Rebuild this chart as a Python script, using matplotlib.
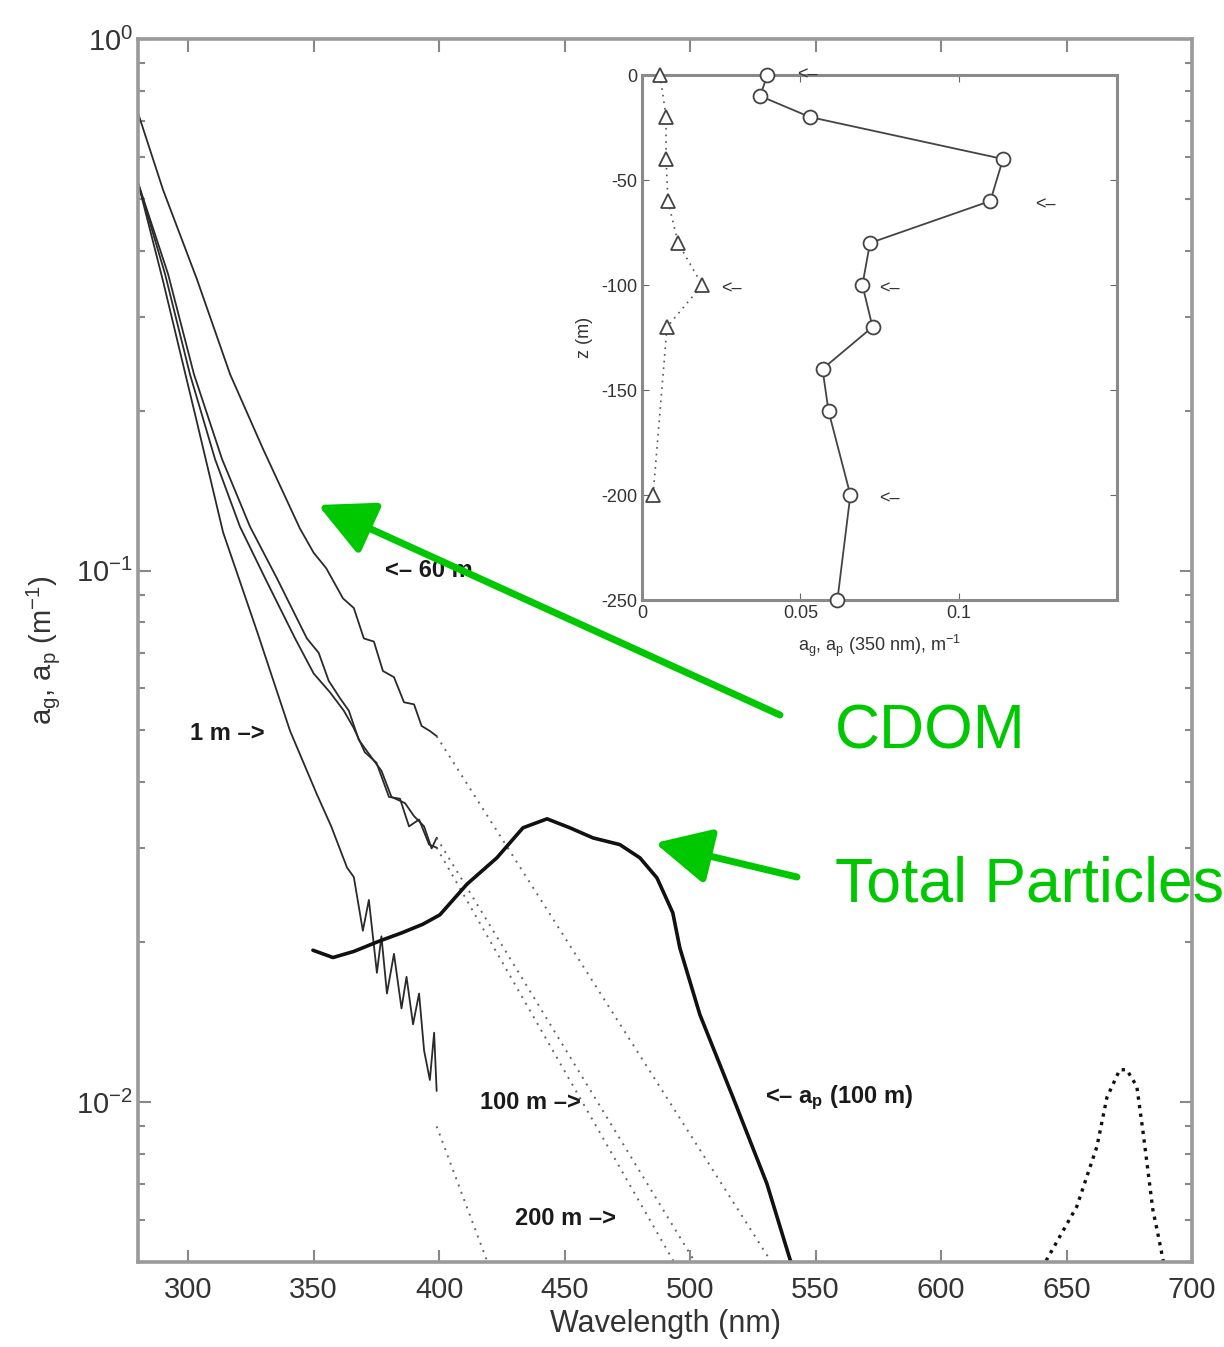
import matplotlib
matplotlib.use("Agg")
import matplotlib.pyplot as plt
from matplotlib.patches import FancyArrowPatch
from matplotlib.ticker import LogLocator, NullFormatter, FixedLocator

plt.rcParams['font.family'] = ['Liberation Sans', 'DejaVu Sans']
plt.rcParams['mathtext.fontset'] = 'custom'
plt.rcParams['mathtext.rm'] = 'Liberation Sans'
plt.rcParams['mathtext.it'] = 'Liberation Sans:italic'
plt.rcParams['mathtext.bf'] = 'Liberation Sans:bold'
plt.rcParams['mathtext.default'] = 'regular'

# ---------------- data: CDOM spectra (measured) ----------------
wl_60 = [280, 290, 303.5, 316.7, 329.9, 344.5, 350, 355, 361.7, 366, 370, 374, 377.6, 382, 386, 390, 393, 396.3, 399]
ag_60 = [0.726, 0.52, 0.353, 0.234, 0.169, 0.120, 0.108, 0.101, 0.0886, 0.0850, 0.0745, 0.0735, 0.0647,
         0.0630, 0.0565, 0.0560, 0.0510, 0.0499, 0.0488]

wl_1 = [280, 290, 303.5, 313.9, 327.4, 340.6, 351.3, 357, 363.3, 366, 369.6, 372, 375.2, 377, 379.2,
        382, 385, 387, 389.6, 392, 394, 396.3, 398, 399]
ag_1 = [0.537, 0.35, 0.190, 0.118, 0.0769, 0.0499, 0.0379, 0.0330, 0.0276, 0.0265, 0.0210, 0.0240,
        0.0175, 0.0205, 0.0160, 0.0190, 0.0150, 0.0172, 0.0140, 0.0160, 0.0125, 0.0110, 0.0135, 0.0105]

wl_m1 = [280, 290.8, 300.7, 310.7, 320.6, 330.7, 342.6, 350, 356.5, 362, 366, 370.4, 375, 380, 384.4,
         388, 392, 396, 399]
ag_m1 = [0.537, 0.361, 0.234, 0.162, 0.121, 0.0966, 0.0745, 0.0640, 0.0590, 0.0545, 0.0505, 0.0455,
         0.0435, 0.0375, 0.0372, 0.0330, 0.0340, 0.0305, 0.0301]

wl_m2 = [280, 292, 302.3, 313.5, 324.6, 335.4, 347.3, 352, 356, 360.5, 364, 368, 373.2, 377, 381,
         386.4, 390, 394, 397, 399]
ag_m2 = [0.537, 0.361, 0.234, 0.162, 0.121, 0.0966, 0.0745, 0.0700, 0.0620, 0.0575, 0.0545, 0.0480,
         0.0444, 0.0420, 0.0375, 0.0365, 0.0345, 0.0330, 0.0300, 0.0314]

# ---------------- data: exponential extrapolations ----------------
ext_wl_60 = [399, 550]
ext_60 = [0.0488, 0.0037]
ext_wl_1 = [399, 425]
ext_1 = [0.0090, 0.00423]
ext_wl_m1 = [399, 510]
ext_m1 = [0.0301, 0.00366]
ext_wl_m2 = [399, 510]
ext_m2 = [0.0314, 0.00433]

# ---------------- data: particle absorption a_p (100 m) ----------------
wl_ap = [349.7, 357.7, 366, 376.4, 385, 393.5, 400.3, 411.1, 423.0, 433.4, 443.0, 452.1, 461.3,
         472.0, 480.0, 486.8, 493.1, 495.9, 503.9, 517.1, 530.6, 539.8, 550]
ap = [0.0193, 0.0187, 0.0192, 0.0201, 0.0208, 0.0216, 0.0225, 0.0257, 0.0288, 0.0328, 0.0341,
      0.0328, 0.0314, 0.0305, 0.0288, 0.0264, 0.0227, 0.0195, 0.0146, 0.0102, 0.00702, 0.00506, 0.0038]
wl_ap_red = [630, 642.2, 654.1, 662.1, 666.1, 671.2, 674.0, 678.0, 680.4, 682.4, 684.4, 686.4, 689, 695]
ap_red = [0.0040, 0.00506, 0.00636, 0.00824, 0.0102, 0.0115, 0.0115, 0.0107, 0.00885, 0.00745,
          0.00627, 0.00565, 0.0049, 0.0040]

# ---------------- data: inset profiles ----------------
z_ap = [0, -10, -20, -40, -60, -80, -100, -120, -140, -160, -200, -250]
ap_z = [0.0396, 0.0373, 0.053, 0.114, 0.110, 0.072, 0.0696, 0.0728, 0.057, 0.0589, 0.0658, 0.0617]
z_ag = [0, -20, -40, -60, -80, -100, -120, -200]
ag_z = [0.0057, 0.0076, 0.0076, 0.0082, 0.0114, 0.019, 0.0079, 0.0035]

x_ticks = [300, 350, 400, 450, 500, 550, 600, 650, 700]
inset_yticks = [0, -50, -100, -150, -200, -250]
inset_xticks = [0, 0.05, 0.1]

# ---------------- figure ----------------
fig = plt.figure(figsize=(12.24, 13.47), dpi=100)
fig.patch.set_facecolor('white')

ax = fig.add_axes([138/1224, 1-1262/1347, (1192-138)/1224, (1262-39)/1347])
ax.set_yscale('log')
ax.set_xlim(280, 700)
ax.set_ylim(0.005, 1.0)

meas_kw = dict(color='#2a2a2a', lw=1.3)
ax.plot(wl_60, ag_60, **meas_kw)
ax.plot(wl_1, ag_1, **meas_kw)
ax.plot(wl_m1, ag_m1, **meas_kw)
ax.plot(wl_m2, ag_m2, **meas_kw)

ext_kw = dict(color='#666666', lw=1.4, ls=(0, (1, 3)))
ax.plot(ext_wl_60, ext_60, **ext_kw)
ax.plot(ext_wl_1, ext_1, **ext_kw)
ax.plot(ext_wl_m1, ext_m1, **ext_kw)
ax.plot(ext_wl_m2, ext_m2, **ext_kw)

ax.plot(wl_ap, ap, color='#111111', lw=2.6, solid_capstyle='round')
ax.plot(wl_ap_red, ap_red, color='#111111', lw=2.4, ls=(0, (1, 1.6)))

ax.set_xticks(x_ticks)
ax.set_xticklabels([str(t) for t in x_ticks])
ax.yaxis.set_major_locator(LogLocator(base=10, numticks=10))
ax.yaxis.set_minor_locator(LogLocator(base=10, subs=range(2, 10), numticks=20))
ax.yaxis.set_minor_formatter(NullFormatter())
ax.tick_params(which='both', direction='in', top=True, right=True, colors='#888888',
               labelcolor='#333333', labelsize=21, width=1.5)
ax.tick_params(which='major', length=9)
ax.tick_params(which='minor', length=5)
ax.tick_params(axis='x', pad=10)
for s in ax.spines.values():
    s.set_color('#9a9a9a')
    s.set_linewidth(2.6)

ax.set_xlabel('Wavelength (nm)', fontsize=22, color='#333333', labelpad=4)
ax.set_ylabel('a$_g$, a$_p$ (m$^{-1}$)', fontsize=21, color='#333333', labelpad=10)

tk = dict(fontsize=17, fontweight='bold', color='#1a1a1a', va='center', ha='left')
ax.text(378.4, 0.1, '<\u2013 60 m', **tk)
ax.text(300.7, 0.0494, '1 m \u2013>', **tk)
ax.text(416.3, 0.0100, '100 m \u2013>', **tk)
ax.text(430.2, 0.00604, '200 m \u2013>', **tk)
ax.text(529.8, 0.0102, '<\u2013 a$_\\mathbf{p}$ (100 m)', **tk)

# ---------------- inset ----------------
axi = fig.add_axes([642/1224, 1-600/1347, 475/1224, 525/1347])
axi.set_xlim(0, 0.15)
axi.set_ylim(-250, 0)
axi.plot(ap_z, z_ap, color='#444444', lw=1.3, marker='o', ms=10, mfc='white', mec='#444444',
         mew=1.3, clip_on=False, zorder=3)
axi.plot(ag_z, z_ag, color='#555555', lw=1.2, ls=(0, (1, 3)), marker='^', ms=10, mfc='white',
         mec='#444444', mew=1.3, clip_on=False, zorder=3)
axi.set_yticks(inset_yticks)
axi.set_yticklabels([str(t) for t in inset_yticks])
axi.set_xticks(inset_xticks)
axi.set_xticklabels(['0', '0.05', '0.1'])
axi.xaxis.set_minor_locator(FixedLocator([0.15]))
axi.tick_params(which='both', direction='in', top=True, right=True, colors='#666666',
                labelcolor='#333333', labelsize=13, length=5)
for s in axi.spines.values():
    s.set_color('#8a8a8a')
    s.set_linewidth(2.2)
axi.set_ylabel('z (m)', fontsize=13, color='#333333', labelpad=6)
axi.set_xlabel('a$_g$, a$_p$ (350 nm), m$^{-1}$', fontsize=13, color='#333333', labelpad=8)

ik = dict(fontsize=13, color='#333333', va='center', ha='left')
axi.text(0.049, 0, '<\u2013', clip_on=False, **ik)
axi.text(0.124, -62, '<\u2013', **ik)
axi.text(0.025, -102, '<\u2013', **ik)
axi.text(0.075, -102, '<\u2013', **ik)
axi.text(0.075, -202, '<\u2013', **ik)

# ---------------- green annotations ----------------
green = '#00c800'
fig.text(835/1224, 1-732/1347, 'CDOM', fontsize=45, color=green, va='center', ha='left')
fig.text(835/1224, 1-885/1347, 'Total Particles', fontsize=45, color=green, va='center', ha='left')

for tail, head in [((780, 715), (318, 505)), ((797, 877), (655, 843))]:
    arr = FancyArrowPatch((tail[0]/1224, 1-tail[1]/1347), (head[0]/1224, 1-head[1]/1347),
                          transform=fig.transFigure, arrowstyle='-|>,head_length=1.7,head_width=0.85',
                          mutation_scale=20, lw=5, color=green, shrinkA=0, shrinkB=0)
    fig.add_artist(arr)

fig.savefig('out.png', dpi=100, facecolor='white')
